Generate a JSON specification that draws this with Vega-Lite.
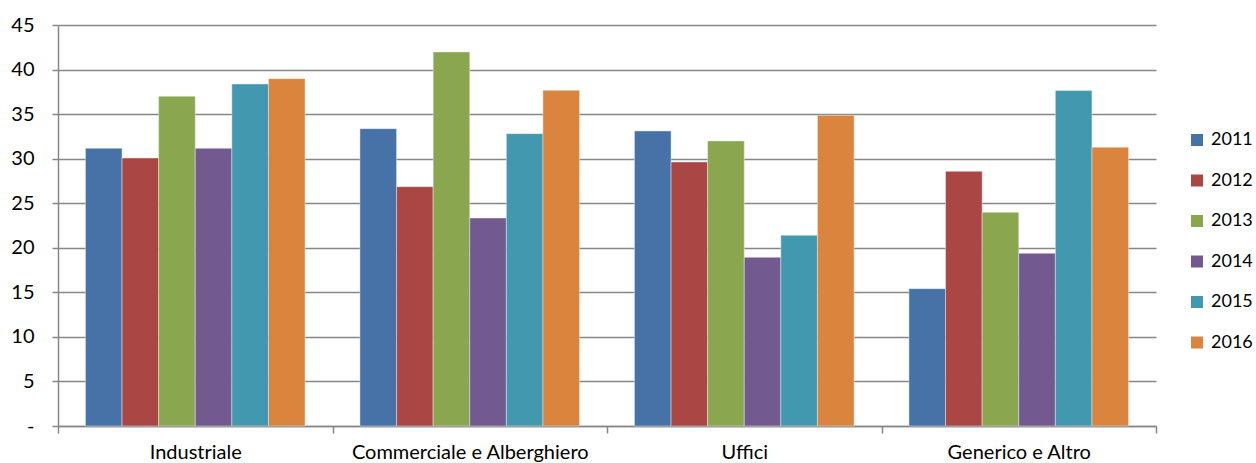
{
  "$schema": "https://vega.github.io/schema/vega-lite/v6.json",
  "width": 1098,
  "height": 401,
  "autosize": {"type": "none"},
  "padding": {"left": 58, "top": 25, "right": 100, "bottom": 37},
  "background": "white",
  "data": {"values": [
    {"cat": "Industriale", "year": "2011", "v": 31.16},
    {"cat": "Industriale", "year": "2012", "v": 30.08},
    {"cat": "Industriale", "year": "2013", "v": 37.0},
    {"cat": "Industriale", "year": "2014", "v": 31.16},
    {"cat": "Industriale", "year": "2015", "v": 38.38},
    {"cat": "Industriale", "year": "2016", "v": 38.98},
    {"cat": "Commerciale e Alberghiero", "year": "2011", "v": 33.37},
    {"cat": "Commerciale e Alberghiero", "year": "2012", "v": 26.86},
    {"cat": "Commerciale e Alberghiero", "year": "2013", "v": 41.98},
    {"cat": "Commerciale e Alberghiero", "year": "2014", "v": 23.34},
    {"cat": "Commerciale e Alberghiero", "year": "2015", "v": 32.81},
    {"cat": "Commerciale e Alberghiero", "year": "2016", "v": 37.67},
    {"cat": "Uffici", "year": "2011", "v": 33.11},
    {"cat": "Uffici", "year": "2012", "v": 29.63},
    {"cat": "Uffici", "year": "2013", "v": 31.99},
    {"cat": "Uffici", "year": "2014", "v": 18.93},
    {"cat": "Uffici", "year": "2015", "v": 21.4},
    {"cat": "Uffici", "year": "2016", "v": 34.87},
    {"cat": "Generico e Altro", "year": "2011", "v": 15.41},
    {"cat": "Generico e Altro", "year": "2012", "v": 28.58},
    {"cat": "Generico e Altro", "year": "2013", "v": 23.98},
    {"cat": "Generico e Altro", "year": "2014", "v": 19.38},
    {"cat": "Generico e Altro", "year": "2015", "v": 37.64},
    {"cat": "Generico e Altro", "year": "2016", "v": 31.28}
  ]},
  "mark": {"type": "bar", "stroke": "#e8eef5", "strokeWidth": 0.8, "strokeOpacity": 0.6},
  "encoding": {
    "x": {
      "field": "cat", "type": "nominal", "sort": null, "title": null,
      "scale": {"paddingInner": 0, "paddingOuter": 0},
      "axis": {
        "tickBand": "extent", "labelAngle": 0, "labelFont": "Lato", "labelFontSize": 20,
        "labelLimit": 0, "labelColor": "#000000", "labelPadding": 9, "tickSize": 7, "tickColor": "#878787",
        "domainColor": "#878787", "domainWidth": 1.5, "tickWidth": 1.5
      }
    },
    "xOffset": {
      "field": "year", "type": "nominal",
      "scale": {"paddingInner": 0, "paddingOuter": 0.75}
    },
    "y": {
      "field": "v", "type": "quantitative", "title": null,
      "scale": {"domain": [0, 45], "nice": false},
      "axis": {
        "values": [0, 5, 10, 15, 20, 25, 30, 35, 40, 45],
        "labelExpr": "datum.value == 0 ? '-' : datum.label",
        "labelFont": "Lato", "labelFontSize": 20, "labelColor": "#000000",
        "labelPadding": 18, "tickSize": 6, "tickColor": "#878787", "tickWidth": 1.5,
        "domainColor": "#878787", "domainWidth": 1.5,
        "grid": true, "gridColor": "#878787", "gridWidth": 1.5
      }
    },
    "color": {
      "field": "year", "type": "nominal", "title": null,
      "scale": {"domain": ["2011", "2012", "2013", "2014", "2015", "2016"],
                "range": ["#4672A8", "#AA4744", "#8AA64F", "#725990", "#4298AF", "#DB843D"]},
      "legend": {
        "orient": "none", "legendX": 1130, "legendY": 106,
        "symbolType": "square", "symbolSize": 144, "symbolStrokeWidth": 0,
        "labelFont": "Lato", "labelFontSize": 18, "labelColor": "#000000",
        "rowPadding": 22.5, "labelOffset": 5
      }
    }
  },
  "config": {"view": {"stroke": null}}
}
